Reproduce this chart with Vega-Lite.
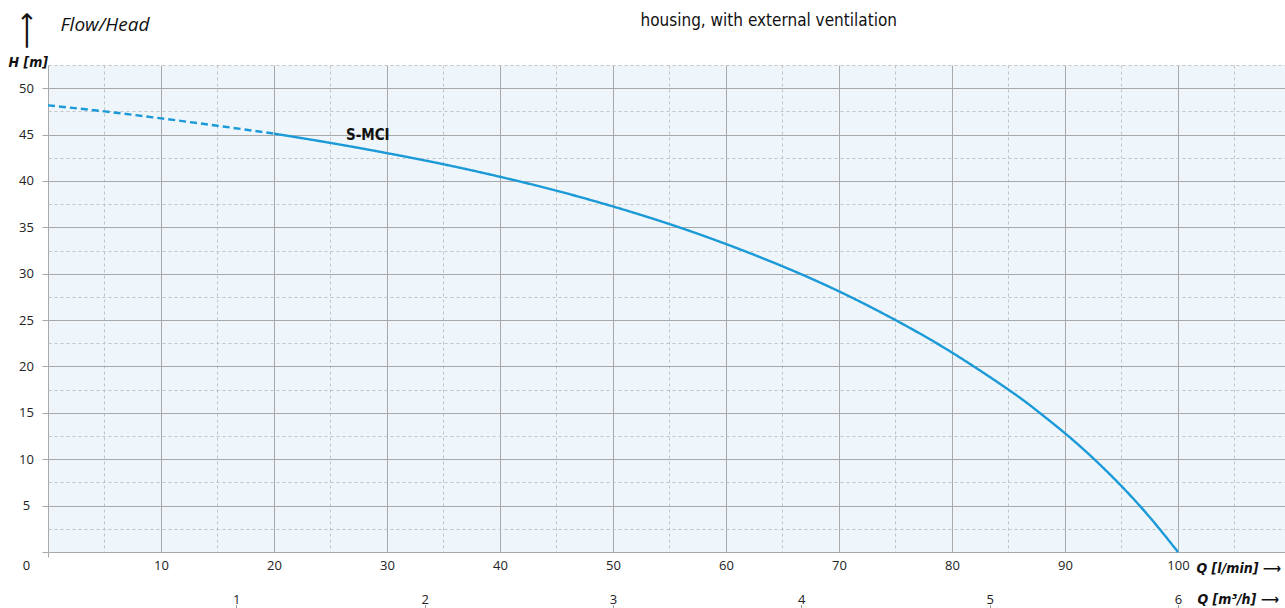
{
  "$schema": "https://vega.github.io/schema/vega-lite/v6.json",
  "autosize": "none",
  "padding": {"left": 48, "top": 65, "right": 0, "bottom": 56},
  "width": 1237,
  "height": 487,
  "background": "white",
  "config": {
    "view": {"fill": "#eef6fc", "stroke": null},
    "axis": {"labelFont": "Open Sans", "labelColor": "#222222", "labelFontSize": 13, "labelOverlap": false, "labelBound": false, "labelFlush": false, "titleColor": "#111111"}
  },
  "datasets": {
    "curve": [
      {"segment": "extrapolated", "q_lmin": 0, "q_m3h": 0, "h": 48.15},
      {"segment": "extrapolated", "q_lmin": 5, "q_m3h": 0.3, "h": 47.5},
      {"segment": "extrapolated", "q_lmin": 10, "q_m3h": 0.6, "h": 46.75},
      {"segment": "extrapolated", "q_lmin": 15, "q_m3h": 0.9, "h": 45.95},
      {"segment": "extrapolated", "q_lmin": 20, "q_m3h": 1.2, "h": 45.1},
      {"segment": "measured", "q_lmin": 20, "q_m3h": 1.2, "h": 45.1},
      {"segment": "measured", "q_lmin": 25, "q_m3h": 1.5, "h": 44.1},
      {"segment": "measured", "q_lmin": 30, "q_m3h": 1.8, "h": 43.0},
      {"segment": "measured", "q_lmin": 35, "q_m3h": 2.1, "h": 41.8},
      {"segment": "measured", "q_lmin": 40, "q_m3h": 2.4, "h": 40.45},
      {"segment": "measured", "q_lmin": 45, "q_m3h": 2.7, "h": 38.95},
      {"segment": "measured", "q_lmin": 50, "q_m3h": 3.0, "h": 37.25},
      {"segment": "measured", "q_lmin": 55, "q_m3h": 3.3, "h": 35.35},
      {"segment": "measured", "q_lmin": 60, "q_m3h": 3.6, "h": 33.2},
      {"segment": "measured", "q_lmin": 65, "q_m3h": 3.9, "h": 30.8},
      {"segment": "measured", "q_lmin": 70, "q_m3h": 4.2, "h": 28.1},
      {"segment": "measured", "q_lmin": 75, "q_m3h": 4.5, "h": 25.0},
      {"segment": "measured", "q_lmin": 80, "q_m3h": 4.8, "h": 21.5},
      {"segment": "measured", "q_lmin": 85, "q_m3h": 5.1, "h": 17.5},
      {"segment": "measured", "q_lmin": 87.5, "q_m3h": 5.25, "h": 15.25},
      {"segment": "measured", "q_lmin": 90, "q_m3h": 5.4, "h": 12.8},
      {"segment": "measured", "q_lmin": 92.5, "q_m3h": 5.55, "h": 10.1},
      {"segment": "measured", "q_lmin": 95, "q_m3h": 5.7, "h": 7.1},
      {"segment": "measured", "q_lmin": 97.5, "q_m3h": 5.85, "h": 3.75},
      {"segment": "measured", "q_lmin": 100, "q_m3h": 6.0, "h": 0}
    ],
    "labels": [
      {"name": "S-MCI", "q_lmin": 28.3, "h": 44.9}
    ]
  },
  "layer": [
    {
      "data": {"name": "curve"},
      "mark": {"type": "line", "interpolate": "natural", "strokeWidth": 2.4, "color": "#1b9ad7"},
      "encoding": {
        "x": {
          "field": "q_lmin", "type": "quantitative",
          "scale": {"domain": [0, 109.47], "nice": false, "zero": false},
          "axis": {
            "orient": "bottom",
            "values": [0, 5, 10, 15, 20, 25, 30, 35, 40, 45, 50, 55, 60, 65, 70, 75, 80, 85, 90, 95, 100, 105],
            "grid": true,
            "gridColor": {"condition": {"test": "datum.value % 10 == 0", "value": "#a9a9a9"}, "value": "#c4c4c4"},
            "gridDash": {"condition": {"test": "datum.value % 10 == 0", "value": []}, "value": [3, 3]},
            "gridWidth": 1,
            "domain": false,
            "ticks": true,
            "tickSize": 5,
            "tickColor": "#a9a9a9",
            "tickOpacity": {"condition": {"test": "datum.value == 0", "value": 1}, "value": 0},
            "labelExpr": "datum.value > 0 && datum.value <= 100 && datum.value % 10 == 0 ? datum.label : ''",
            "labelPadding": 2,
            "title": "Q [l/min] ⟶",
            "titleX": 1148, "titleY": 16,
            "titleAlign": "left", "titleBaseline": "middle",
            "titleFont": "DejaVu Sans Condensed, DejaVu Sans, sans-serif", "titleFontStyle": "italic", "titleFontWeight": "bold", "titleFontSize": 14
          }
        },
        "y": {
          "field": "h", "type": "quantitative",
          "scale": {"domain": [0, 52.5], "nice": false, "zero": false},
          "axis": {
            "orient": "left",
            "values": [0, 2.5, 5, 7.5, 10, 12.5, 15, 17.5, 20, 22.5, 25, 27.5, 30, 32.5, 35, 37.5, 40, 42.5, 45, 47.5, 50, 52.5],
            "grid": true,
            "gridColor": {"condition": {"test": "datum.value % 5 == 0", "value": "#a9a9a9"}, "value": "#c4c4c4"},
            "gridDash": {"condition": {"test": "datum.value % 5 == 0", "value": []}, "value": [3, 3]},
            "gridWidth": 1,
            "domain": false,
            "ticks": true,
            "tickSize": 6,
            "tickColor": "#a9a9a9",
            "tickOpacity": {"condition": {"test": "datum.value % 5 == 0", "value": 1}, "value": 0},
            "labelExpr": "datum.value % 5 == 0 && datum.value <= 50 ? datum.label : ''",
            "labelAlign": "center", "labelBaseline": "middle", "labelPadding": 16,
            "labelOffset": {"condition": {"test": "datum.value == 0", "value": 13}, "value": 0},
            "title": "H [m]",
            "titleAngle": 0, "titleX": -40, "titleY": -3,
            "titleAlign": "left", "titleBaseline": "middle",
            "titleFont": "DejaVu Sans Condensed, DejaVu Sans, sans-serif", "titleFontStyle": "italic", "titleFontWeight": "bold", "titleFontSize": 14
          }
        },
        "strokeDash": {
          "field": "segment", "type": "nominal",
          "scale": {"domain": ["extrapolated", "measured"], "range": [[7, 4], [1, 0]]},
          "legend": null
        }
      }
    },
    {
      "data": {"name": "labels"},
      "mark": {"type": "text", "font": "DejaVu Sans Condensed, DejaVu Sans, sans-serif", "fontWeight": "bold", "fontSize": 15, "align": "center", "baseline": "middle", "color": "#111111"},
      "encoding": {
        "x": {
          "field": "q_lmin", "type": "quantitative",
          "scale": {"domain": [0, 109.47], "nice": false, "zero": false},
          "axis": {
            "orient": "top", "grid": false, "ticks": false, "labels": false, "domain": false,
            "title": "housing, with external ventilation",
            "titleX": 592, "titleY": -40,
            "titleAlign": "left", "titleBaseline": "alphabetic",
            "titleFont": "DejaVu Sans Condensed, DejaVu Sans, sans-serif", "titleFontWeight": "normal", "titleFontSize": 17
          }
        },
        "y": {
          "field": "h", "type": "quantitative",
          "scale": {"domain": [0, 52.5], "nice": false, "zero": false},
          "axis": {
            "orient": "left", "grid": false, "ticks": false, "labels": false, "domain": false,
            "title": "⟶",
            "titleAngle": -90, "titleX": -22, "titleY": -35,
            "titleAlign": "center", "titleBaseline": "middle",
            "titleFont": "DejaVu Sans", "titleFontWeight": "normal", "titleFontSize": 26
          }
        },
        "text": {"field": "name", "type": "nominal"}
      }
    },
    {
      "data": {"name": "curve"},
      "mark": {"type": "line", "opacity": 0},
      "encoding": {
        "x": {
          "field": "q_m3h", "type": "quantitative",
          "scale": {"domain": [0, 6.5682], "nice": false, "zero": false},
          "axis": {
            "orient": "bottom", "offset": 53,
            "values": [1, 2, 3, 4, 5, 6],
            "grid": false, "domain": false,
            "ticks": true, "tickSize": 4, "tickColor": "#333333", "tickDash": [1, 1],
            "labelBaseline": "alphabetic", "labelAlign": "center", "labelPadding": -6,
            "title": "Q [m³/h] ⟶",
            "titleX": 1149, "titleY": -6,
            "titleAlign": "left", "titleBaseline": "middle",
            "titleFont": "DejaVu Sans Condensed, DejaVu Sans, sans-serif", "titleFontStyle": "italic", "titleFontWeight": "bold", "titleFontSize": 14
          }
        },
        "y": {
          "field": "h", "type": "quantitative",
          "scale": {"domain": [0, 52.5], "nice": false, "zero": false},
          "axis": {
            "orient": "left", "grid": false, "ticks": false, "labels": false, "domain": false,
            "title": "Flow/Head",
            "titleAngle": 0, "titleX": 12, "titleY": -41,
            "titleAlign": "left", "titleBaseline": "middle",
            "titleFont": "Open Sans", "titleFontStyle": "italic", "titleFontWeight": "normal", "titleFontSize": 19
          }
        }
      }
    }
  ],
  "resolve": {
    "scale": {"x": "independent"},
    "axis": {"x": "independent", "y": "independent"}
  }
}
